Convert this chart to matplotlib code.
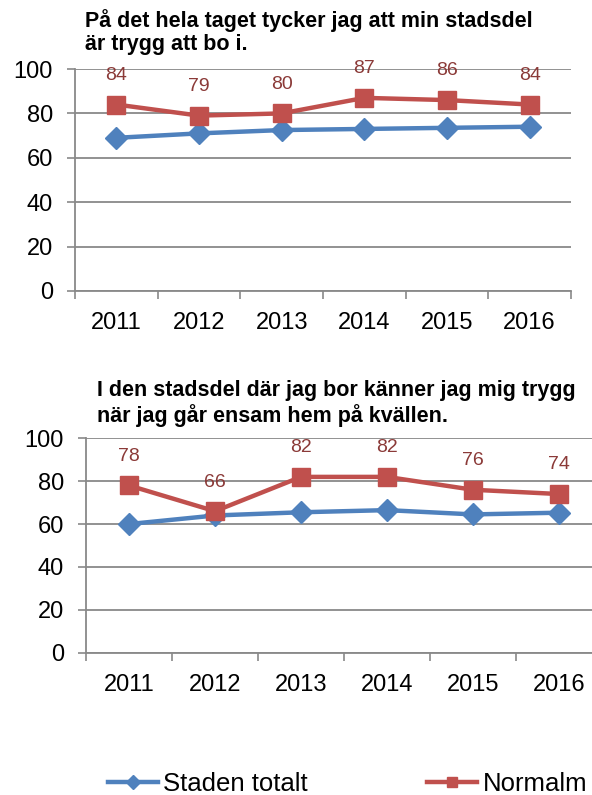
import matplotlib
matplotlib.use("Agg")
import matplotlib.pyplot as plt

plt.rcParams['font.family'] = ['Liberation Sans', 'DejaVu Sans']

# data
years = ['2011', '2012', '2013', '2014', '2015', '2016']
title_1 = 'På det hela taget tycker jag att min stadsdel\när trygg att bo i.'
staden_1 = [69, 71, 72.5, 73, 73.5, 74]
norrmalm_1 = [84, 79, 80, 87, 86, 84]
title_2 = 'I den stadsdel där jag bor känner jag mig trygg\nnär jag går ensam hem på kvällen.'
staden_2 = [60, 64, 65.5, 66.5, 64.5, 65.3]
norrmalm_2 = [78, 66, 82, 82, 76, 74]

blue = '#4F81BD'
red = '#C0504D'
label_red = '#8B3A38'
grey = '#898989'


def draw_panel(ax, staden, norrmalm):
    x = list(range(1, len(years) + 1))
    ax.plot(x, staden, color=blue, lw=3.2, marker='D', ms=11.5,
            label='Staden totalt', zorder=3)
    ax.plot(x, norrmalm, color=red, lw=3.2, marker='s', ms=13,
            label='Normalm', zorder=4)
    for xi, v in zip(x, norrmalm):
        ax.annotate(str(v), (xi, v), xytext=(0, 21), textcoords='offset points',
                    ha='center', va='center', fontsize=14, color=label_red)
    ax.set_xlim(0.5, len(years) + 0.5)
    ax.set_ylim(0, 100)
    ax.set_yticks(range(0, 101, 20))
    ax.set_xticks(x)
    ax.set_xticklabels(years)
    ax.set_xticks([i + 0.5 for i in range(0, len(years) + 1)], minor=True)
    ax.tick_params(axis='x', which='major', length=0, pad=15, labelsize=17)
    ax.tick_params(axis='x', which='minor', length=6, width=1.2, color=grey,
                   direction='out')
    ax.tick_params(axis='y', length=6, width=1.2, color=grey, labelsize=17, pad=10)
    ax.yaxis.grid(True, color=grey, lw=1.3)
    ax.set_axisbelow(True)
    for s in ['top', 'right']:
        ax.spines[s].set_visible(False)
    for s in ['left', 'bottom']:
        ax.spines[s].set_color(grey)
        ax.spines[s].set_linewidth(1.3)


fig = plt.figure(figsize=(5.92, 7.95), dpi=100)

ax1 = fig.add_axes([75 / 592, 1 - 291 / 795, 496 / 592, 222 / 795])
draw_panel(ax1, staden_1, norrmalm_1)
fig.text(85 / 592, 1 - 9 / 795, title_1, ha='left', va='top',
         fontsize=15.5, fontweight='bold', linespacing=1.15)

ax2 = fig.add_axes([86 / 592, 1 - 652.7 / 795, 516 / 592, 214.4 / 795])
draw_panel(ax2, staden_2, norrmalm_2)
fig.text(97 / 592, 1 - 380 / 795, title_2, ha='left', va='top',
         fontsize=15.5, fontweight='bold', linespacing=1.15)

handles, labels = ax2.get_legend_handles_labels()
fig.legend(handles, labels, loc='center left', bbox_to_anchor=(108 / 592, 1 - 784 / 795),
           ncol=2, frameon=False, fontsize=18.5, handlelength=1.95,
           handletextpad=0.2, columnspacing=4.65, markerscale=0.6,
           borderpad=0, borderaxespad=0)

fig.savefig('out.png', dpi=100)
